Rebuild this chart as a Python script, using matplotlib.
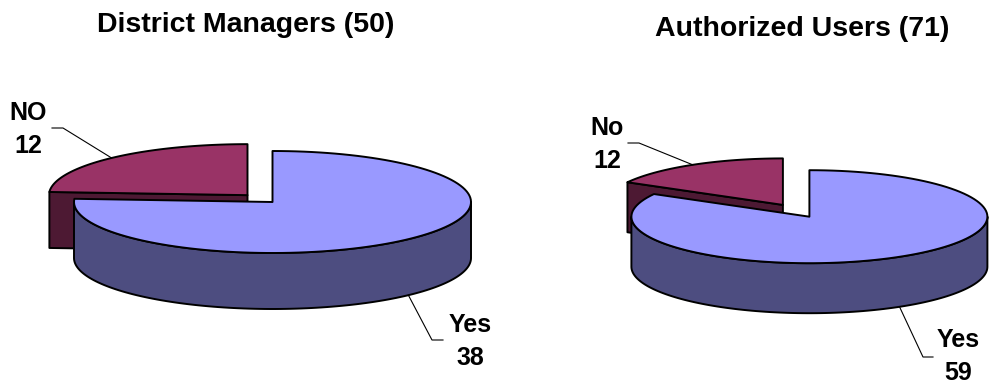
import numpy as np
import matplotlib
matplotlib.use("Agg")
import matplotlib.pyplot as plt
from matplotlib.patches import Polygon

# ---- data ----
titles = ["District Managers (50)", "Authorized Users (71)"]
categories_left = ["Yes", "NO"]
values_left = [38, 12]
categories_right = ["Yes", "No"]
values_right = [59, 12]

# ---- styles ----
top_colors = ["#9999FF", "#993366"]
side_colors = ["#4D4D80", "#4D1933"]
FONT = "Liberation Sans"

fig = plt.figure(figsize=(9.9, 3.84), dpi=100)
ax = fig.add_axes([0, 0, 1, 1])
ax.set_xlim(0, 990)
ax.set_ylim(384, 0)
ax.axis("off")


def pt(cx, cy, rx, ry, a):
    t = np.radians(a)
    return np.array([cx + rx * np.sin(t), cy - ry * np.cos(t)])


def arc(cx, cy, rx, ry, a1, a2, n=120):
    t = np.radians(np.linspace(a1, a2, n))
    return np.column_stack([cx + rx * np.sin(t), cy - ry * np.cos(t)])


def pie3d(ax, values, cats, cx, cy, rx, ry, depth, explode, label_layout):
    total = float(sum(values))
    cum = np.concatenate([[0], np.cumsum(values)]) / total * 360.0
    slices = []
    for i in range(len(values)):
        a1, a2 = cum[i], cum[i + 1]
        mid = (a1 + a2) / 2
        e = explode[i]
        scx = cx + e * rx * np.sin(np.radians(mid))
        scy = cy - e * ry * np.cos(np.radians(mid))
        slices.append((np.cos(np.radians(mid)), i, a1, a2, mid, scx, scy))
    # draw back slices first
    slices.sort(key=lambda s: -s[0])
    kw = dict(edgecolor="black", linewidth=1.4, joinstyle="round")
    for _, i, a1, a2, mid, scx, scy in slices:
        c = np.array([scx, scy])
        d = np.array([0, depth])
        # cut faces
        if np.sin(np.radians(a1)) < -1e-9:
            p = pt(scx, scy, rx, ry, a1)
            ax.add_patch(Polygon([c, p, p + d, c + d], closed=True,
                                 facecolor=side_colors[i], **kw))
        if np.sin(np.radians(a2)) > 1e-9:
            p = pt(scx, scy, rx, ry, a2)
            ax.add_patch(Polygon([c, p, p + d, c + d], closed=True,
                                 facecolor=side_colors[i], **kw))
        # outer wall (front half)
        w1, w2 = max(a1, 90), min(a2, 270)
        if w2 > w1:
            top = arc(scx, scy, rx, ry, w1, w2)
            bot = top[::-1] + d
            ax.add_patch(Polygon(np.vstack([top, bot]), closed=True,
                                 facecolor=side_colors[i], **kw))
        # top face
        top = arc(scx, scy, rx, ry, a1, a2)
        ax.add_patch(Polygon(np.vstack([c, top]), closed=True,
                             facecolor=top_colors[i], **kw))
    # labels with leader lines
    for _, i, a1, a2, mid, scx, scy in sorted(slices, key=lambda s: s[1]):
        p = pt(scx, scy, rx, ry, mid)
        if np.cos(np.radians(mid)) < 0:
            p = p + np.array([0, depth])
        (tx, ty), (elx, ely), hx = label_layout[i]
        ax.plot([p[0], elx, hx], [p[1], ely, ely], color="black", lw=0.8,
                solid_joinstyle="miter")
        ax.text(tx, ty, cats[i], ha="center", va="baseline", fontsize=18,
                fontweight="bold", family=FONT)
        ax.text(tx, ty + 33, str(values[i]), ha="center", va="baseline",
                fontsize=18, fontweight="bold", family=FONT)


# left pie
pie3d(ax, values_left, categories_left, 272.5, 202, 198.5, 51, 56, [0, 0.184],
      [((470, 332), (432, 340), 443), ((28.5, 120), (63, 128), 52)])
# right pie
pie3d(ax, values_right, categories_right, 809.4, 216.7, 178, 46.5, 50, [0, 0.294],
      [((958, 347), (923, 357), 933), ((607, 135), (639, 143), 628)])

ax.text(246, 32, titles[0], ha="center", va="baseline", fontsize=20.5,
        fontweight="bold", family=FONT)
ax.text(802.5, 36, titles[1], ha="center", va="baseline", fontsize=20.5,
        fontweight="bold", family=FONT)

fig.savefig("out.png", dpi=100)
